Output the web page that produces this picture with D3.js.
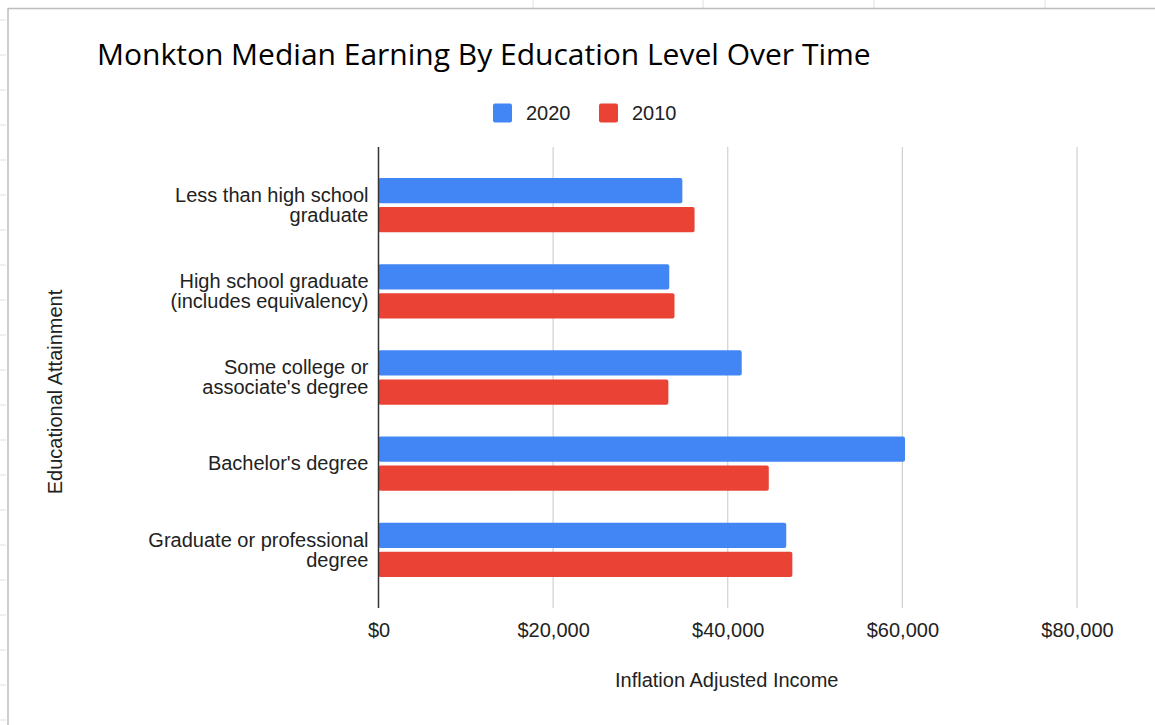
<!DOCTYPE html>
<html>
<head>
<meta charset="utf-8">
<script src="https://cdn.jsdelivr.net/npm/d3@7"></script>
<style>
  body { margin: 0; background: #fff; }
  svg { display: block; font-family: "Liberation Sans", Arial, sans-serif; }
</style>
</head>
<body>
<svg width="1155" height="725"></svg>
<script>
// data
var categories = [
  ["Less than high school", "graduate"],
  ["High school graduate", "(includes equivalency)"],
  ["Some college or", "associate's degree"],
  ["Bachelor's degree"],
  ["Graduate or professional", "degree"]
];
var seriesNames = ["2020", "2010"];
var values2020 = [34800, 33300, 41600, 60300, 46700];
var values2010 = [36200, 33900, 33200, 44700, 47400];
var xTicks = [0, 20000, 40000, 60000, 80000];
var colors = ["#4285f4", "#ea4335"];

var svg = d3.select("svg");

// spreadsheet behind the chart frame
var sheet = svg.append("g");
[533, 703, 874, 1045].forEach(function(x) {
  sheet.append("line").attr("x1", x).attr("x2", x).attr("y1", 0).attr("y2", 8)
    .attr("stroke", "#e0e0e0");
});
d3.range(20, 725, 35).forEach(function(y) {
  sheet.append("line").attr("x1", 0).attr("x2", 6).attr("y1", y).attr("y2", y)
    .attr("stroke", "#e0e0e0");
});
svg.append("path")
  .attr("d", "M8,725 V8.5 H1155")
  .attr("fill", "none").attr("stroke", "#bdbdbd").attr("stroke-width", 1.5);

var margin = { left: 378.5, right: 1077, top: 147, bottom: 608 };

var x = d3.scaleLinear().domain([0, 80000]).range([margin.left, margin.right]);
var y = d3.scaleBand().domain(d3.range(categories.length))
  .range([margin.top, margin.bottom]).paddingInner(0.37).paddingOuter(0.36);
var ySub = d3.scaleBand().domain(d3.range(seriesNames.length))
  .range([0, y.bandwidth()]).paddingInner(0.13);

// gridlines
svg.append("g").selectAll("line")
  .data(xTicks.slice(1))
  .enter()
    .append("line")
    .attr("x1", function(d) { return x(d); })
    .attr("x2", function(d) { return x(d); })
    .attr("y1", margin.top)
    .attr("y2", margin.bottom)
    .attr("stroke", "#d0d0d0")
    .attr("stroke-width", 1.2);

// bars
var rows = categories.map(function(c, i) { return [values2020[i], values2010[i]]; });
var groups = svg.append("g").selectAll("g")
  .data(rows)
  .enter()
    .append("g")
    .attr("transform", function(d, i) { return "translate(0," + y(i) + ")"; });

groups.selectAll("rect")
  .data(function(d) { return d; })
  .enter()
    .append("rect")
    .attr("x", x(0))
    .attr("y", function(d, j) { return ySub(j); })
    .attr("width", function(d) { return x(d) - x(0); })
    .attr("height", ySub.bandwidth())
    .attr("rx", 2)
    .attr("fill", function(d, j) { return colors[j]; });

// x axis labels
var xAxis = d3.axisBottom(x).tickValues(xTicks).tickSize(0).tickPadding(15)
  .tickFormat(function(d) { return "$" + d3.format(",")(d); });
var xg = svg.append("g").attr("transform", "translate(0," + margin.bottom + ")").call(xAxis);
xg.select(".domain").remove();
xg.selectAll("text").style("font-size", "20px").attr("fill", "#222")
  .style("font-family", "'Liberation Sans', Arial, sans-serif");

// zero axis line
svg.append("line")
  .attr("x1", x(0)).attr("x2", x(0))
  .attr("y1", margin.top).attr("y2", margin.bottom)
  .attr("stroke", "#333").attr("stroke-width", 1.5);

// category labels
var labels = svg.append("g").selectAll("text")
  .data(categories)
  .enter()
    .append("text")
    .attr("text-anchor", "end")
    .style("font-size", "20px")
    .attr("fill", "#222")
    .attr("x", x(0) - 10)
    .attr("y", function(d, i) { return y(i) + y.bandwidth() / 2; });

labels.selectAll("tspan")
  .data(function(d) { return d; })
  .enter()
    .append("tspan")
    .attr("x", x(0) - 10)
    .attr("dy", function(t, k, all) {
      var n = all.length;
      return k === 0 ? ((-(n - 1) * 20) / 2 + 6.7) + "px" : "20px";
    })
    .text(function(t) { return t; });

// title
svg.append("text")
  .attr("x", 97).attr("y", 65)
  .style("font-size", "30px")
  .style("font-family", "'Open Sans', sans-serif")
  .attr("fill", "#000")
  .text("Monkton Median Earning By Education Level Over Time");

// legend
var legend = svg.append("g").attr("transform", "translate(493,103.5)");
var lx = [0, 106];
seriesNames.forEach(function(s, i) {
  legend.append("rect").attr("x", lx[i]).attr("y", 0).attr("width", 19).attr("height", 19)
    .attr("rx", 2).attr("fill", colors[i]);
  legend.append("text").attr("x", lx[i] + 33).attr("y", 16.5)
    .style("font-size", "20px").attr("fill", "#222").text(s);
});

// axis titles
svg.append("text")
  .attr("x", (margin.left + margin.right) / 2 - 1).attr("y", 687)
  .attr("text-anchor", "middle")
  .style("font-size", "20px").attr("fill", "#222")
  .text("Inflation Adjusted Income");

svg.append("text")
  .attr("transform", "translate(62,392) rotate(-90)")
  .attr("text-anchor", "middle")
  .style("font-size", "20px").attr("fill", "#222")
  .text("Educational Attainment");
</script>
</body>
</html>
